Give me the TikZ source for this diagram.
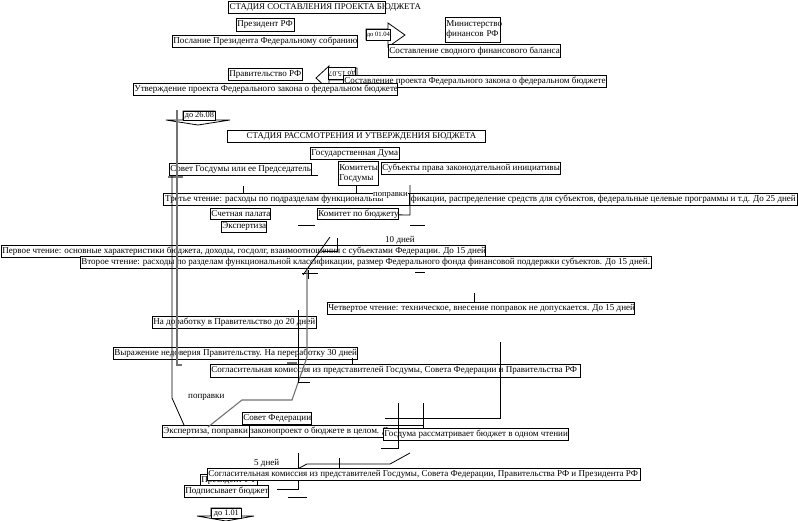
\documentclass[tikz,border=0pt]{standalone}
\usepackage{fontspec}
\setmainfont{Liberation Serif}
\newcommand\fsz{\fontsize{9.05}{9.8}\selectfont}
\begin{document}
\begin{tikzpicture}[x=1pt,y=-1pt,
  bx/.style={draw=black,line width=0.7pt,fill=white,inner sep=1pt,anchor=north west,font=\fsz},
  bxm/.style={bx,align=left},
  ttl/.style={bx,line width=1.4pt,font=\fontsize{8.8}{9.6}\selectfont},
  arl/.style={bx,inner sep=0.5pt},
  lbl/.style={inner sep=0pt,anchor=north west,font=\fsz},
  ln/.style={line width=0.8pt,black},
  gln/.style={line width=1.1pt,black!55}]
\useasboundingbox (0,0) rectangle (798,520);
\fill[white] (0,0) rectangle (798,520);
\newcommand\bx[7][bx]{\node[#1,minimum width=#5pt,minimum height=#6pt] (#2) at (#3,#4) {\makebox[\dimexpr#5pt-2pt\relax][l]{#7}};}
\newcommand\bm[6]{\node[bxm,minimum width=#4pt,minimum height=#5pt,text width=#4pt-2pt] (#1) at (#2,#3) {#6};}
% ---------- stage 1
\bx[ttl]{t1}{228}{1}{157}{12}{СТАДИЯ СОСТАВЛЕНИЯ ПРОЕКТА БЮДЖЕТА}
\bx{pres}{236}{18}{58}{13}{Президент РФ}
\bx{posl}{172}{35}{185}{12}{Послание Президента Федеральному собранию}
\draw[ln,fill=white] (366,29)--(388,29)--(388,23)--(405,35)--(388,47)--(388,40)--(366,40)--cycle;
\node[arl,font=\fontsize{6.6}{7}\selectfont,minimum width=22pt,minimum height=11pt] (a1) at (366,29) {до 01.04};
\bm{minfin}{445}{17}{55}{25}{Министерство\\финансов РФ}
\bx{svod}{388}{44}{172}{13}{Составление сводного финансового баланса}
\bx{prav}{228}{68}{74}{12}{Правительство РФ}
\draw[ln,fill=white] (357,68)--(329,68)--(329,66)--(316,78)--(329,90)--(329,80)--(357,80)--cycle;
\node[arl,font=\fontsize{7.6}{8}\selectfont,rotate=180,minimum width=27pt,minimum height=12pt,anchor=center] (a2) at (342,73) {до 15.07};
\bx{sostpr}{343}{75}{263}{12}{Составление проекта Федерального закона о федеральном бюджете}
\bx{utv}{133}{83}{264}{12}{Утверждение проекта Федерального закона о федеральном бюджете}
% ---------- arrow 26.08
\draw[ln,fill=white] (183,111)--(215,111)--(215,120)--(230,120)--(198,125)--(166,120)--(183,120)--cycle;
\node[arl,font=\fontsize{8.3}{9}\selectfont,minimum width=32pt,minimum height=9pt] (a3) at (183,111) {до 26.08};
% ---------- stage 2
\bx[ttl]{t2}{227}{130}{258}{12}{\hspace*{18pt}СТАДИЯ РАССМОТРЕНИЯ И УТВЕРЖДЕНИЯ БЮДЖЕТА}
\bx{gd}{310}{147}{89}{12}{Государственная Дума}
\bx{sovgd}{169}{163}{142}{12}{Совет Госдумы или ее Председатель}
\bm{kom}{338}{161}{40}{24}{Комитеты\\Госдумы}
\bx{subj}{381}{162}{179}{12}{Субъекты права законодательной инициативы}
% third reading
\draw[ln,fill=white] (163,193) rectangle (798,205);
\draw[ln,fill=white] (409,193) rectangle (797,205);
\node[lbl] (tr1) at (165,195) {Третье чтение: расходы по подразделам функциональны};
\node[lbl,fill=white,font=\fontsize{8.6}{9}\selectfont] (popr1) at (373,192) {поправки};
\node[lbl,anchor=north east] (tr2) at (796,195) {фикации, распределение средств для субъектов, федеральные целевые программы и т.д. До 25 дней};
\bx{schp}{210}{208}{60}{11}{Счетная палата}
\bx{kombud}{317}{208}{81}{11}{Комитет по бюджету}
\bx{eksp}{221}{221}{45}{11}{Экспертиза}
\node[lbl] (d10) at (385,236) {10 дней};
\bx{r1}{1}{245}{484}{12}{Первое чтение: основные характеристики бюджета, доходы, госдолг, взаимоотношения с субъектами Федерации. До 15 дней}
\bx{r2}{80}{256}{571}{12}{Второе чтение: расходы по разделам функциональной классификации, размер Федерального фонда финансовой поддержки субъектов. До 15 дней.}
\bx{r4}{327}{302}{307}{12}{Четвертое чтение: техническое, внесение поправок не допускается. До 15 дней}
\bx{dor}{152}{316}{164}{12}{На доработку в Правительство до 20 дней}
\bx{nedov}{113}{347}{244}{12}{Выражение недоверия Правительству. На переработку 30 дней}
\bx{sogl1}{210}{364}{370}{13}{Согласительная комиссия из представителей Госдумы, Совета Федерации и Правительства РФ}
\node[lbl] (popr2) at (188,394) {поправки};
\bx{sf}{242}{412}{69}{12}{Совет Федерации}
\bx{zak}{249}{425}{174}{12}{законопроект о бюджете в целом. Д}
\bx{ekspp}{162}{425}{87}{12}{Экспертиза, поправки}
\bx{gdodn}{383}{428}{185}{12}{Госдума рассматривает бюджет в одном чтении}
\node[lbl] (d5) at (254,459) {5 дней};
% ---------- lines
\draw[gln] (177,110)--(177,365)--(182,365);
\draw[gln] (168,177)--(183,177);
\draw[ln] (172,175)--(172,398)--(184,425);
\draw[ln] (300,175)--(318,175);
\draw[ln] (243,186)--(243,193);
\draw[ln] (356,186)--(356,193);
\draw[ln] (kombud.east)++(0,1)--(410,215)--(410,185);
\draw[ln] (298,225)--(315,225);
\draw[ln] (410,225)--(425,225);
\draw[ln] (330,237)--(303,275);
\draw[ln] (337,238)--(337,251)--(322,251);
\draw[ln] (302,273)--(318,273);
\draw[ln] (308,270)--(308,279);
\draw[ln] (415,272)--(425,272);
\draw[gln] (307,270)--(307,357)--(292,400)--(242,400)--(208,427);
\draw[ln] (298,310)--(298,382)--(310,382);
\draw[gln] (287,363)--(297,363);
\draw[ln] (474,293)--(474,302);
\draw[ln] (352,358)--(352,364);
\draw[ln] (500,342)--(500,418)--(385,418);
\draw[ln] (423,403)--(423,425);
\draw[ln] (398,403)--(398,448)--(381,448);
\draw[ln] (410,453)--(390,464)--(307,464)--(280,478);
\draw[ln] (298,453)--(298,489)--(277,489);
\draw[ln] (288,497)--(307,497);
\draw[ln] (339,458)--(339,468);
% ---------- final part
\bx{pres2}{200}{474}{57}{12}{Президент РФ}
\bx{sogl2}{207}{468}{433}{12}{Согласительная комиссия из представителей Госдумы, Совета Федерации, Правительства РФ и Президента РФ}
\bx{podp}{184}{485}{84}{12}{Подписывает бюджет}
\draw[ln,fill=white] (211,508)--(241,508)--(241,516)--(254,516)--(226,521)--(197,516)--(211,516)--cycle;
\node[arl,font=\fontsize{8.3}{9}\selectfont,minimum width=30pt,minimum height=10pt] (a4) at (211,508) {до 1.01};
\end{tikzpicture}
\end{document}
